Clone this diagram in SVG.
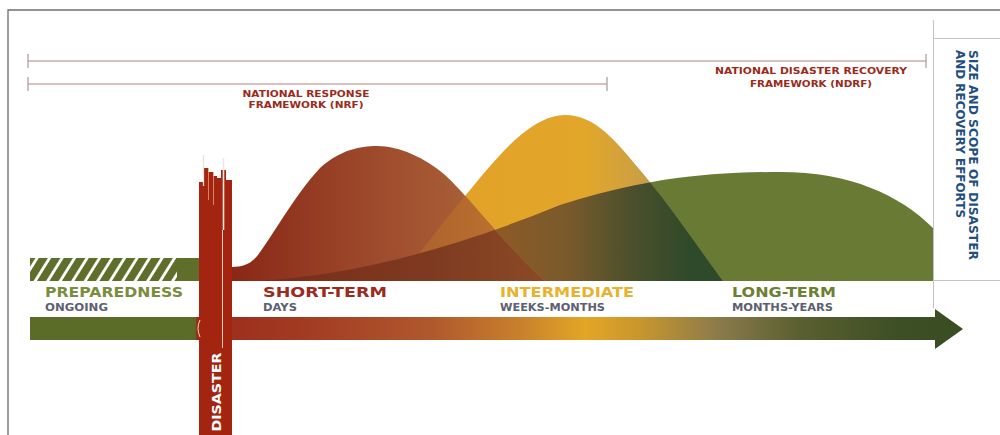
<svg xmlns="http://www.w3.org/2000/svg" width="1000" height="435" viewBox="0 0 1000 435">
<style>
.lbl{font-family:"DejaVu Sans",Verdana,"Liberation Sans",sans-serif;font-weight:bold}
.br{fill:#9b2a1a;font-size:9px;text-anchor:middle}
.sub{fill:#5c6070;font-size:10px}
.main{font-size:14.5px}
.side{fill:#1f4f7f;font-size:11.5px}
.bl{stroke:#cfa9ab;stroke-width:1.5;fill:none}
.tk{stroke:#a89a9a;stroke-width:1.2}
.frame{stroke:#6e6e6e;stroke-width:1.3;fill:none}
.pane{stroke:#c4c4c4;stroke-width:1;fill:none}
</style>
<defs>
  <path id="pS" d="M232,281 L232,267 C242,267 250,265 258,255 C275,232 295,195 320,168 C340,150 360,146 377,146 C400,146 425,158 445,175 C470,198 500,240 545,281 Z"/>
  <path id="pI" d="M395,281 C420,255 440,225 470,190 C495,160 530,115 565,115 C595,115 615,140 640,170 C670,205 700,250 723,281 Z"/>
  <path id="pL" d="M255,281 C350,276 450,250 560,205 C640,180 700,172 780,172 C850,172 900,195 933,228 L933,281 Z"/>
  <clipPath id="cS"><use href="#pS"/></clipPath>
  <clipPath id="cI"><use href="#pI"/></clipPath>
  <linearGradient id="gS" gradientUnits="userSpaceOnUse" x1="232" y1="0" x2="545" y2="0">
    <stop offset="0" stop-color="#8a2716"/><stop offset="0.45" stop-color="#9d4a2c"/><stop offset="1" stop-color="#b3703f"/>
  </linearGradient>
  <linearGradient id="gI" gradientUnits="userSpaceOnUse" x1="470" y1="0" x2="723" y2="0">
    <stop offset="0" stop-color="#e2a228"/><stop offset="0.45" stop-color="#e2a62a"/><stop offset="0.65" stop-color="#cfa040"/><stop offset="0.82" stop-color="#b5955a"/><stop offset="1" stop-color="#a89062"/>
  </linearGradient>
  <linearGradient id="gIL" gradientUnits="userSpaceOnUse" x1="500" y1="0" x2="723" y2="0">
    <stop offset="0" stop-color="#8c5a26"/><stop offset="0.3" stop-color="#7a5a2c"/><stop offset="0.6" stop-color="#4a4f2c"/><stop offset="0.85" stop-color="#2f4a2a"/><stop offset="1" stop-color="#2e4a2a"/>
  </linearGradient>
  <linearGradient id="gSI" gradientUnits="userSpaceOnUse" x1="400" y1="0" x2="545" y2="0">
    <stop offset="0" stop-color="#aa5e2c"/><stop offset="1" stop-color="#c27a30"/>
  </linearGradient>
  <linearGradient id="gSL" gradientUnits="userSpaceOnUse" x1="255" y1="0" x2="545" y2="0">
    <stop offset="0" stop-color="#7a2b18"/><stop offset="0.6" stop-color="#7e3a20"/><stop offset="1" stop-color="#8a4a26"/>
  </linearGradient>
  <linearGradient id="gA" gradientUnits="userSpaceOnUse" x1="30" y1="0" x2="963" y2="0">
    <stop offset="0" stop-color="#5b6b28"/><stop offset="0.177" stop-color="#5b6b28"/>
    <stop offset="0.179" stop-color="#9b2a1a"/><stop offset="0.29" stop-color="#a23a22"/>
    <stop offset="0.43" stop-color="#b0582d"/><stop offset="0.525" stop-color="#c8802c"/>
    <stop offset="0.595" stop-color="#e3a625"/><stop offset="0.655" stop-color="#c8952e"/>
    <stop offset="0.74" stop-color="#8a7a4a"/><stop offset="0.825" stop-color="#5a5f30"/>
    <stop offset="0.93" stop-color="#3d4f25"/><stop offset="1" stop-color="#3a4c22"/>
  </linearGradient>
  <pattern id="hatch" patternUnits="userSpaceOnUse" width="10.6" height="10" patternTransform="rotate(32)">
    <rect x="0" y="0" width="10.6" height="10" fill="#ffffff"/>
    <rect x="0" y="0" width="7.8" height="10" fill="#5f6e2a"/>
  </pattern>
</defs>

<rect width="1000" height="435" fill="#ffffff"/>

<g id="frame">
  <path class="frame" d="M8,435 L8,10 L1000,10"/>
  <path class="pane" d="M933.5,20 L933.5,308 M933.5,38.5 L1000,38.5 M933.5,280.5 L1000,280.5"/>
</g>

<g id="connectors">
  <path class="bl" d="M28,61 L926,61"/>
  <path class="tk" d="M28,54 L28,68 M926,54 L926,68"/>
  <path class="bl" d="M28,84 L607,84"/>
  <path class="tk" d="M28,77 L28,91 M607,77 L607,91"/>
</g>

<g id="ndrf-label" class="lbl">
  <text class="br" x="811" y="74" textLength="192" lengthAdjust="spacingAndGlyphs">NATIONAL DISASTER RECOVERY</text>
  <text class="br" x="811" y="87" textLength="122" lengthAdjust="spacingAndGlyphs">FRAMEWORK (NDRF)</text>
</g>
<g id="nrf-label" class="lbl">
  <text class="br" x="306" y="97" textLength="127" lengthAdjust="spacingAndGlyphs">NATIONAL RESPONSE</text>
  <text class="br" x="306" y="108" textLength="115" lengthAdjust="spacingAndGlyphs">FRAMEWORK (NRF)</text>
</g>

<g id="side-label" class="lbl">
  <text class="side" transform="translate(968.5,50) rotate(90)" textLength="210" lengthAdjust="spacingAndGlyphs">SIZE AND SCOPE OF DISASTER</text>
  <text class="side" transform="translate(955.5,50) rotate(90)" textLength="168" lengthAdjust="spacingAndGlyphs">AND RECOVERY EFFORTS</text>
</g>

<g id="curves">
  <use href="#pL" fill="#687a34"/>
  <use href="#pI" fill="url(#gI)"/>
  <use href="#pS" fill="url(#gS)"/>
  <g clip-path="url(#cI)"><use href="#pL" fill="url(#gIL)"/></g>
  <g clip-path="url(#cS)"><use href="#pI" fill="url(#gSI)"/></g>
  <g clip-path="url(#cS)"><use href="#pL" fill="url(#gSL)"/></g>
</g>

<g id="preparedness-bar">
  <rect x="30" y="258" width="150" height="23" fill="url(#hatch)"/>
  <rect x="177" y="258" width="24" height="23" fill="#5f6e2a"/>
</g>

<g id="timeline-arrow">
  <path d="M30,317 L935,317 L935,309 L963,329 L935,349 L935,340 L30,340 Z" fill="url(#gA)"/>
</g>

<g id="disaster">
  <path d="M199,435 L199,182 L203,182 L203,168 L208,168 L208,172 L213,172 L213,176 L217,176 L217,178 L221,178 L221,170 L226,170 L226,180 L232,180 L232,435 Z" fill="#a3250f"/>
  <path d="M203.5,155 L203.5,186" stroke="#f3dcd2" stroke-width="1.3"/>
  <path d="M208.5,168 L208.5,200" stroke="#e89a80" stroke-width="0.8"/>
  <path d="M213.5,172 L213.5,205" stroke="#e89a80" stroke-width="0.8"/>
  <path d="M223.5,158 L223.5,230" stroke="#f5e6e0" stroke-width="1.6"/>
  <path d="M222.5,230 L222.5,348" stroke="#f0c8b8" stroke-width="1"/>
  <path d="M200,320 Q196,328 200,337" stroke="#e8d8b0" stroke-width="1" fill="none"/>
  <text class="lbl" transform="translate(221,392) rotate(-90)" fill="#ffffff" font-size="13" text-anchor="middle" textLength="79" lengthAdjust="spacingAndGlyphs">DISASTER</text>
</g>

<g id="preparedness" class="lbl">
  <text class="main" x="45" y="297" fill="#7a8c3e" textLength="138" lengthAdjust="spacingAndGlyphs">PREPAREDNESS</text>
  <text class="sub" x="45" y="311" textLength="63" lengthAdjust="spacingAndGlyphs">ONGOING</text>
</g>
<g id="short-term" class="lbl">
  <text class="main" x="263" y="297" fill="#9a2b1d" textLength="124" lengthAdjust="spacingAndGlyphs">SHORT-TERM</text>
  <text class="sub" x="263" y="311" textLength="34" lengthAdjust="spacingAndGlyphs">DAYS</text>
</g>
<g id="intermediate" class="lbl">
  <text class="main" x="500" y="297" fill="#e8b22f" textLength="134" lengthAdjust="spacingAndGlyphs">INTERMEDIATE</text>
  <text class="sub" x="500" y="311" textLength="105" lengthAdjust="spacingAndGlyphs">WEEKS-MONTHS</text>
</g>
<g id="long-term" class="lbl">
  <text class="main" x="732" y="297" fill="#6d7f34" textLength="104" lengthAdjust="spacingAndGlyphs">LONG-TERM</text>
  <text class="sub" x="732" y="311" textLength="101" lengthAdjust="spacingAndGlyphs">MONTHS-YEARS</text>
</g>
</svg>
